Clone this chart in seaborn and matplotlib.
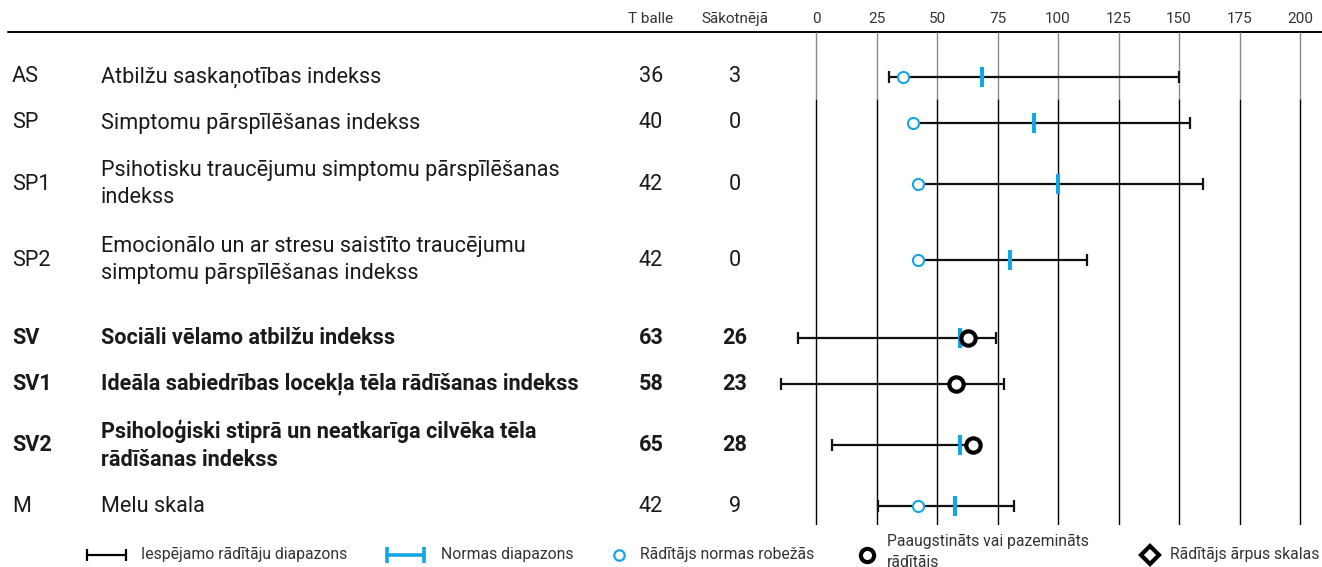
import numpy as np
import pandas as pd
import matplotlib
matplotlib.use("Agg")
import matplotlib.pyplot as plt
import seaborn as sns

sns.set_theme(style="white")
plt.rcParams['font.family'] = ['Roboto', 'DejaVu Sans']

# ---------------- data ----------------
codes = ["AS", "SP", "SP1", "SP2", "SV", "SV1", "SV2", "M"]
names = [
    "Atbilžu saskaņotības indekss",
    "Simptomu pārspīlēšanas indekss",
    "Psihotisku traucējumu simptomu pārspīlēšanas\nindekss",
    "Emocionālo un ar stresu saistīto traucējumu\nsimptomu pārspīlēšanas indekss",
    "Sociāli vēlamo atbilžu indekss",
    "Ideāla sabiedrības locekļa tēla rādīšanas indekss",
    "Psiholoģiski stiprā un neatkarīga cilvēka tēla\nrādīšanas indekss",
    "Melu skala",
]
t_scores = [36, 40, 42, 42, 63, 58, 65, 42]
raw_scores = [3, 0, 0, 0, 26, 23, 28, 9]
range_low = [30, 40, 42, 42, -7.5, -14.5, 6.5, 25.5]
range_high = [150, 154.5, 160, 112, 74.5, 77.5, 67, 82]
norm_mark = [68.5, 90, 100, 80, 59.5, np.nan, 59.5, 57.5]
elevated = [False, False, False, False, True, True, True, False]
x_ticks = [0, 25, 50, 75, 100, 125, 150, 175, 200]
col_headers = ["T balle", "Sākotnējā"]
legend_labels = [
    "Iespējamo rādītāju diapazons",
    "Normas diapazons",
    "Rādītājs normas robežās",
    "Paaugstināts vai pazemināts\nrādītājs",
    "Rādītājs ārpus skalas",
]

# ---------------- layout (pixels) ----------------
W, H = 1322, 567
BLUE = "#13a6e3"
TXT = "#1a1a1a"
HDR = "#333333"
ROW_FS = 15.6
HDR_FS = 11
LEG_FS = 11.3

# row centres from number of label lines
centers = []
y = 54
for i, nm in enumerate(names):
    h = 46 if "\n" not in nm else 76
    if i == 4:
        y += 17
    centers.append(y + h / 2)
    y += h

df = pd.DataFrame({
    "code": codes, "name": names, "t": t_scores, "raw": raw_scores,
    "lo": range_low, "hi": range_high, "norm": norm_mark,
    "elev": elevated, "y": centers,
})

fig = plt.figure(figsize=(W / 100, H / 100), dpi=100)

# background axes in pixel coordinates
bg = fig.add_axes([0, 0, 1, 1])
bg.set_xlim(0, W)
bg.set_ylim(H, 0)
bg.axis("off")

# plot axes
px_left, px_right, px_top, px_bot = 770, W, 32, 525
x0_px, px_per_unit = 816, 2.42
ax = fig.add_axes([px_left / W, (H - px_bot) / H, (px_right - px_left) / W, (px_bot - px_top) / H])
ax.set_xlim((px_left - x0_px) / px_per_unit, (px_right - x0_px) / px_per_unit)
ax.set_ylim(px_bot, px_top)
ax.set_facecolor("none")
for s in ax.spines.values():
    s.set_visible(False)
ax.set_yticks([])
ax.set_xticks(x_ticks)
ax.set_xticklabels([str(v) for v in x_ticks])
ax.tick_params(axis="x", top=True, bottom=False, labeltop=True, labelbottom=False,
               length=0, pad=4, labelsize=HDR_FS, labelcolor=HDR)

# vertical grid lines
ax.vlines(x_ticks, px_top, 99, color="#8a8a8a", lw=1.0, zorder=1)
ax.vlines(x_ticks, 99, px_bot, color="black", lw=1.0, zorder=1)

# top rule and column headers
bg.plot([8, W], [32, 32], color="black", lw=1.4)
bg.text(651, 19, col_headers[0], ha="center", va="center", fontsize=HDR_FS, color=HDR)
bg.text(735, 19, col_headers[1], ha="center", va="center", fontsize=HDR_FS, color=HDR)

# row texts
for _, r in df.iterrows():
    fw = "bold" if r.elev else "normal"
    bg.text(12, r.y, r.code, ha="left", va="center", fontsize=ROW_FS, color=TXT, fontweight=fw)
    bg.text(101, r.y, r["name"], ha="left", va="center", fontsize=ROW_FS, color=TXT,
            fontweight=fw, linespacing=1.35)
    bg.text(651, r.y, str(r.t), ha="center", va="center", fontsize=ROW_FS, color=TXT, fontweight=fw)
    bg.text(735, r.y, str(r.raw), ha="center", va="center", fontsize=ROW_FS, color=TXT, fontweight=fw)

# ranges
ax.hlines(df["y"], df["lo"], df["hi"], color="#111111", lw=1.6, zorder=2)
caps = pd.DataFrame({"x": list(df["lo"]) + list(df["hi"]), "y": list(df["y"]) * 2})
sns.scatterplot(data=caps, x="x", y="y", marker="|", s=8.5 ** 2, color="#111111",
                linewidth=1.6, ax=ax, zorder=3, legend=False)

# norm markers
nm_df = df.dropna(subset=["norm"])
sns.scatterplot(data=nm_df, x="norm", y="y", marker="|", s=14.5 ** 2, color=BLUE,
                linewidth=3.0, ax=ax, zorder=4, legend=False)

# score markers
normal_df = df[~df["elev"]]
elev_df = df[df["elev"]]
sns.scatterplot(data=normal_df, x="t", y="y", marker="o", s=8 ** 2, facecolor="white",
                edgecolor=BLUE, linewidth=1.5, ax=ax, zorder=5, legend=False)
sns.scatterplot(data=elev_df, x="t", y="y", marker="o", s=10.3 ** 2, facecolor="white",
                edgecolor="black", linewidth=3.0, ax=ax, zorder=6, legend=False)
ax.set_xlabel("")
ax.set_ylabel("")

# ---------------- legend (manual) ----------------
ly = 555
bg.plot([87, 126], [ly, ly], color="black", lw=1.6)
bg.plot([87, 126], [ly, ly], ls="none", marker="|", ms=9, mew=1.6, color="black")
bg.text(141, ly, legend_labels[0], ha="left", va="center", fontsize=LEG_FS, color=HDR)

bg.plot([387, 424], [ly, ly], color=BLUE, lw=2.6)
bg.plot([387, 424], [ly, ly], ls="none", marker="|", ms=12, mew=2.6, color=BLUE)
bg.text(441, ly, legend_labels[1], ha="left", va="center", fontsize=LEG_FS, color=HDR)

bg.plot([619], [ly], ls="none", marker="o", ms=7.5, mfc="white", mec=BLUE, mew=1.6)
bg.text(640, ly, legend_labels[2], ha="left", va="center", fontsize=LEG_FS, color=HDR)

bg.plot([867], [ly], ls="none", marker="o", ms=9.5, mfc="white", mec="black", mew=3.0)
bg.text(887, 534, legend_labels[3], ha="left", va="top", fontsize=LEG_FS, color=HDR,
        linespacing=1.5)

bg.plot([1150], [ly], ls="none", marker="D", ms=9, mfc="white", mec="black", mew=3.0)
bg.text(1170, ly, legend_labels[4], ha="left", va="center", fontsize=LEG_FS, color=HDR)

fig.savefig("out.png", dpi=100)
